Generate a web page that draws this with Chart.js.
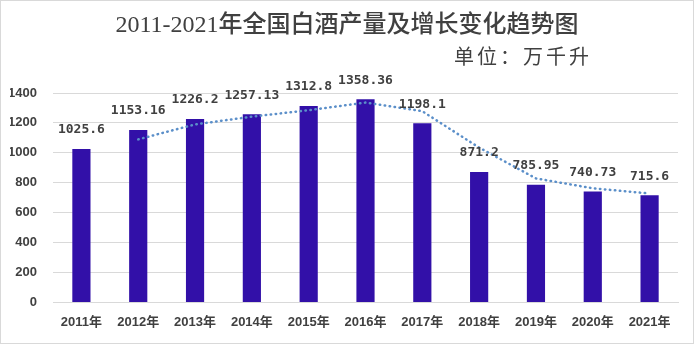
<!DOCTYPE html>
<html>
<head>
<meta charset="utf-8">
<script src="https://cdn.jsdelivr.net/npm/chart.js@4.4.0/dist/chart.umd.min.js"></script>
<style>
  html, body { margin: 0; padding: 0; background: #fff; }
  #wrap { width: 694px; height: 344px; position: relative; }
</style>
</head>
<body>
<div id="wrap"><canvas id="baijiuchart"></canvas></div>
<script>
// 2011-2021 baijiu output (10k kL)
var annees = ['2011年','2012年','2013年','2014年','2015年','2016年','2017年','2018年','2019年','2020年','2021年'];
var production = [1025.6, 1153.16, 1226.2, 1257.13, 1312.8, 1358.36, 1198.1, 871.2, 785.95, 740.73, 715.6];
var etiquettes = ['1025.6','1153.16','1226.2','1257.13','1312.8','1358.36','1198.1','871.2','785.95','740.73','715.6'];
// dotted trend line (starts at 2012)
var tendance = [null, 1090, 1190, 1242, 1285, 1336, 1278, 1035, 829, 763, 728];

var titre = '2011-2021年全国白酒产量及增长变化趋势图';
var soustitre = '单位：万千升';

var decor = {
  id: 'decor',
  beforeDraw: function(chart) {
    var ctx = chart.ctx;
    ctx.save();
    ctx.fillStyle = '#fff';
    ctx.fillRect(0, 0, chart.width, chart.height);
    ctx.strokeStyle = '#d9d9d9';
    ctx.lineWidth = 1;
    ctx.strokeRect(0.5, 0.5, chart.width - 1, chart.height - 1);
    ctx.restore();
  },
  afterDraw: function(chart) {
    var ctx = chart.ctx;
    ctx.save();
    ctx.fillStyle = '#404040';
    ctx.textBaseline = 'middle';
    ctx.font = '500 24px "Liberation Serif", "Noto Sans CJK SC"';
    ctx.textAlign = 'center';
    ctx.fillText(titre, 347, 26);
    ctx.font = '20px "Noto Sans CJK SC"';
    ctx.textAlign = 'right';
    ctx.letterSpacing = '3px';
    ctx.fillText(soustitre, 592, 56);
    ctx.letterSpacing = '0px';

    // value labels above bars
    var meta = chart.getDatasetMeta(0);
    ctx.font = 'bold 13px "DejaVu Sans Mono"';
    ctx.textAlign = 'center';
    meta.data.forEach(function(bar, i) {
      ctx.fillText(etiquettes[i], bar.x, bar.y - 19);
    });
    ctx.restore();
  }
};

var data = {
  labels: annees,
  datasets: [{
    type: 'bar',
    label: '产量',
    data: production,
    backgroundColor: '#3210a8',
    barPercentage: 0.64,
    categoryPercentage: 0.5,
    order: 2
  }, {
    type: 'line',
    label: '趋势',
    data: tendance,
    borderColor: '#5b8fc9',
    borderWidth: 2.5,
    borderDash: [0.5, 4.5],
    borderCapStyle: 'round',
    pointRadius: 0,
    tension: 0,
    fill: false,
    order: 1
  }]
};

var config = {
  data: data,
  plugins: [decor],
  options: {
    responsive: false,
    animation: false,
    layout: {
      padding: { top: 93, right: 16, bottom: 2, left: 10 }
    },
    scales: {
      x: {
        grid: { display: false, drawTicks: false },
        border: { color: '#d9d9d9' },
        ticks: {
          padding: 12,
          color: '#404040',
          font: { family: '"Liberation Sans", "Noto Sans CJK SC"', size: 13, weight: 'bold' }
        }
      },
      y: {
        min: 0,
        max: 1400,
        grid: { color: '#d9d9d9', drawTicks: false },
        border: { display: false },
        afterFit: function(scale) { scale.width = 43; },
        ticks: {
          stepSize: 200,
          padding: 16,
          color: '#404040',
          font: { family: '"Liberation Sans"', size: 13, weight: 'bold' },
          callback: function(v) { return v; }
        }
      }
    },
    plugins: {
      legend: { display: false },
      tooltip: { enabled: false }
    }
  }
};

var canvas = document.getElementById('baijiuchart');
canvas.width = 694;
canvas.height = 344;
var baijiuchart = new Chart(canvas.getContext('2d'), config);
</script>
</body>
</html>
